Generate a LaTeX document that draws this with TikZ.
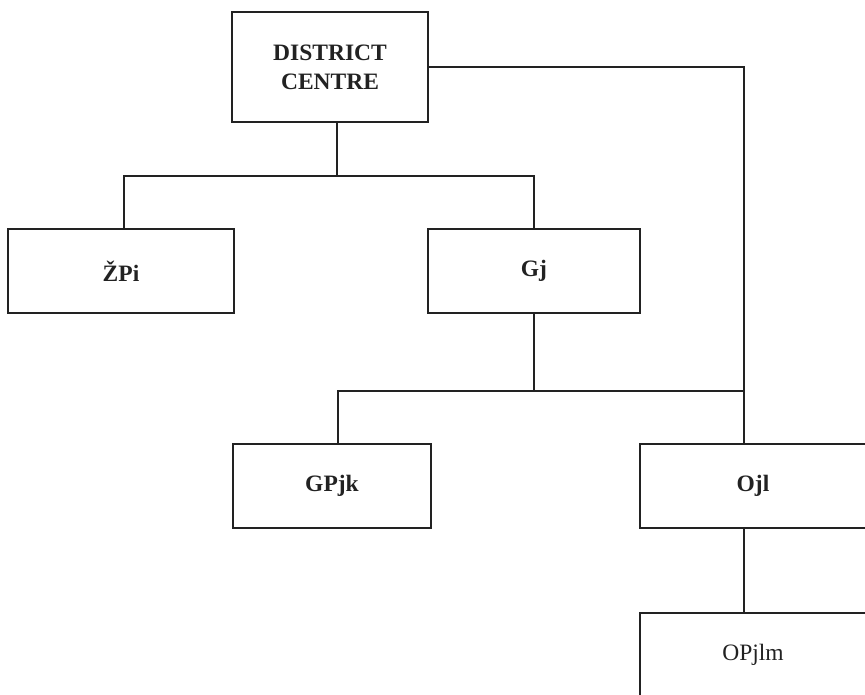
\documentclass[tikz,border=0pt]{standalone}
\usepackage{fontspec}
\setmainfont{Liberation Serif}
\usetikzlibrary{positioning,calc}
\definecolor{orgink}{RGB}{34,34,34}
\tikzset{
  orgbox/.style={draw=orgink,line width=1.3pt,fill=white,rectangle,inner sep=2pt,
    font=\fontsize{23.5}{29}\selectfont\bfseries,text=orgink,align=center},
  orgplain/.style={orgbox,font=\fontsize{23.5}{29}\selectfont},
  orglink/.style={draw=orgink,line width=1.3pt},
}
\begin{document}
\begin{tikzpicture}[x=1pt,y=-1pt]
  \useasboundingbox (0,0) rectangle (865,694);
  \clip (0,0) rectangle (865,694);
  % --- top of the hierarchy ---
  \node[orgbox,minimum width=196pt,minimum height=110pt] (dc) at (330,67) {DISTRICT\\CENTRE};
  % --- lower boxes: name/x/y/width/label ---
  \foreach \nm/\cx/\cy/\bw/\lab in {zpi/121/271/226/{ŽPi}, gj/534/271/212/{Gj},
        gpjk/332/486/198/{GPjk}, ojl/753/486/226/{Ojl}}{%
    \node[orgbox,minimum width=\bw pt,minimum height=84pt] (\nm) at (\cx,\cy) {\lab};}
  \node[orgplain,minimum width=226pt,minimum height=84pt] (opjlm) at (753,655) {OPjlm};
  % --- junctions of the connectors ---
  \coordinate (dcbar) at (337,176);
  \coordinate (gjbar) at (535,391);
  \coordinate (rtrunk) at (744,67);
  % --- connectors ---
  \draw[orglink] (dcbar |- dc.south) -- (dcbar);
  \draw[orglink] ([xshift=3pt]zpi.north) |- (dcbar) -| (gj.north);
  \draw[orglink] (dc.east) -- (rtrunk) -- (rtrunk |- ojl.north);
  \draw[orglink] (gj.south) -- (gj.south |- gjbar);
  \draw[orglink] ([xshift=6pt]gpjk.north) |- (rtrunk |- gjbar);
  \draw[orglink] (rtrunk |- ojl.south) -- (rtrunk |- opjlm.north);
\end{tikzpicture}
\end{document}
